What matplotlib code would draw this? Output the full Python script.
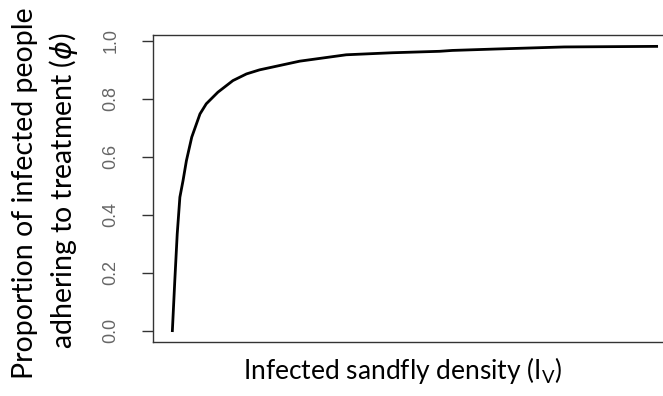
import matplotlib.pyplot as plt

# infected sandfly density (arbitrary units) and proportion adhering to treatment
density = [0, 0.5, 1.0, 1.55, 2.2, 2.9, 4.0, 5.7, 7.0, 9.4, 12.5, 15.3, 18.0,
           26.3, 35.9, 45.4, 55.2, 57.8, 67.0, 80.9, 100]
adherence = [0, 0.172, 0.333, 0.46, 0.517, 0.586, 0.667, 0.747, 0.782, 0.822,
             0.862, 0.885, 0.899, 0.929, 0.951, 0.958, 0.963, 0.966, 0.971,
             0.978, 0.98]
yticks = [0.0, 0.2, 0.4, 0.6, 0.8, 1.0]

fig = plt.figure(figsize=(6.63, 3.96), dpi=100)
ax = fig.add_axes([153/663, 1-342/396, 523/663, 307/396])

ax.plot(density, adherence, color='black', lw=2, solid_joinstyle='miter')

# R-style 4% padding around the data
xr = max(density) - min(density)
yr = max(adherence) - min(adherence)
ax.set_xlim(min(density) - 0.04*xr, max(density) + 0.04*xr)
ax.set_ylim(min(adherence) - 0.04*yr, max(adherence) + 0.04*yr)

for s in ax.spines.values():
    s.set_color('#333333')
    s.set_linewidth(1.0)

ax.set_xticks([])
ax.set_yticks(yticks)
ax.set_yticklabels(['%.1f' % t for t in yticks], rotation=90, va='center',
                   family='Liberation Sans', fontsize=13, color='#666666')
ax.tick_params(axis='y', length=8, width=1, color='#333333', pad=16)

fig.text(403/663, 1-370/396, r'Infected sandfly density (I$_\mathregular{V}$)',
         ha='center', va='center', family='Lato', fontsize=19)
fig.text(25/663, 1-193/396, 'Proportion of infected people', rotation=90,
         ha='center', va='center', family='Lato', fontsize=20.5)
fig.text(64/663, 1-191/396, r'adhering to treatment ($\phi$)', rotation=90,
         ha='center', va='center', family='Lato', fontsize=20.5)

fig.savefig('out.png', dpi=100)
